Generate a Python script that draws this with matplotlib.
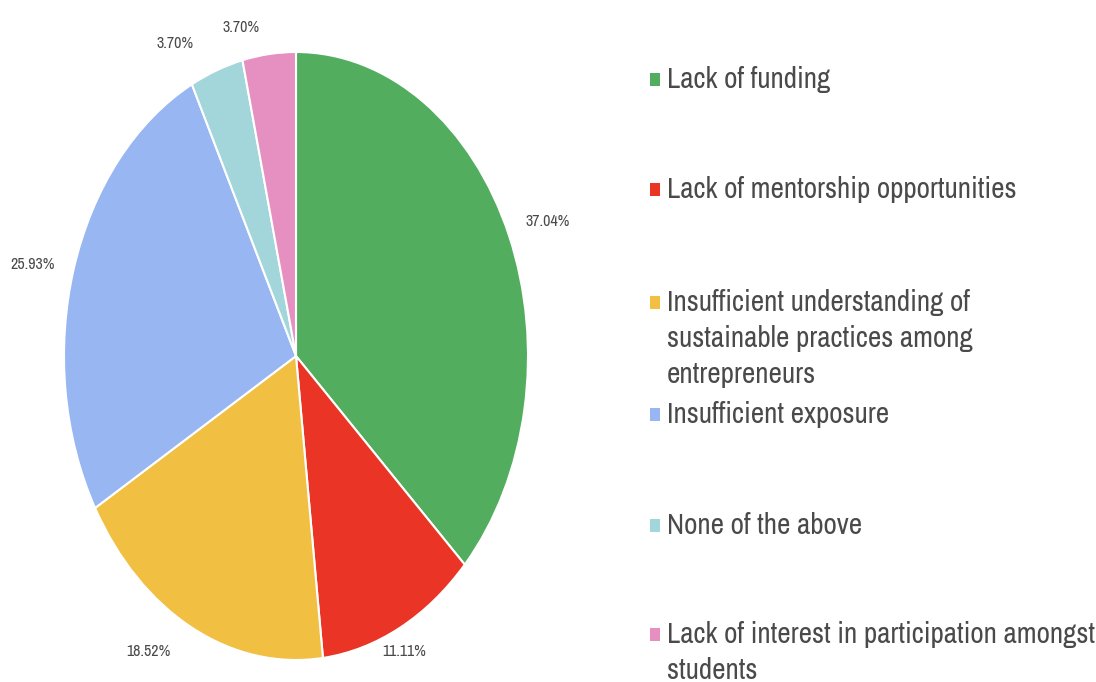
import matplotlib.pyplot as plt
from matplotlib.patches import Rectangle
from matplotlib.transforms import offset_copy

categories = [
    "Lack of funding",
    "Lack of mentorship opportunities",
    "Insufficient understanding of\nsustainable practices among\nentrepreneurs",
    "Insufficient exposure",
    "None of the above",
    "Lack of interest in participation amongst\nstudents",
]
responses = [10, 3, 5, 7, 1, 1]
colors = ["#52ae5e", "#ea3526", "#f1c042", "#97b6f2", "#a3d6db", "#e68fc1"]

W, H = 1096, 682
FONT = ["Archivo Narrow", "Roboto Condensed", "DejaVu Sans"]
TEXT_COLOR = "#4a4a4a"

# small nudges (pixels, x right / y up) so the outer labels sit like the original
label_nudge_px = [(13, 0), (-8, 9), (-31, 9), (-14, -6), (-32, -7), (-25, -10)]

fig = plt.figure(figsize=(W / 100, H / 100), dpi=100)
ax = fig.add_axes([64 / W, 22 / H, 464 / W, 608 / H])

wedges, _, pcts = ax.pie(
    responses,
    colors=colors,
    startangle=90,
    counterclock=False,
    autopct="%1.2f%%",
    pctdistance=1.12,
    wedgeprops={"edgecolor": "white", "linewidth": 1.5},
    textprops={"fontsize": 11.5, "color": TEXT_COLOR, "family": FONT},
)
ax.set_aspect("auto")
ax.set_xlim(-1, 1)
ax.set_ylim(-1, 1)
for t, (dx, dy) in zip(pcts, label_nudge_px):
    t.set_transform(offset_copy(ax.transData, fig=fig, x=dx, y=dy, units="dots"))

# legend drawn by hand: baselines in pixels from the top
baselines = [88, 198, 311, 423, 534, 643]
line_step = 36
for label, color, b in zip(categories, colors, baselines):
    for k, line in enumerate(label.split("\n")):
        fig.text(667 / W, 1 - (b + k * line_step) / H, line, fontsize=21,
                 color=TEXT_COLOR, family=FONT, va="baseline", ha="left")
    fig.patches.append(Rectangle((650 / W, 1 - (b - 2) / H), 10 / W, 13 / H,
                                 transform=fig.transFigure, facecolor=color,
                                 edgecolor="none"))

fig.savefig("out.png", dpi=100)
